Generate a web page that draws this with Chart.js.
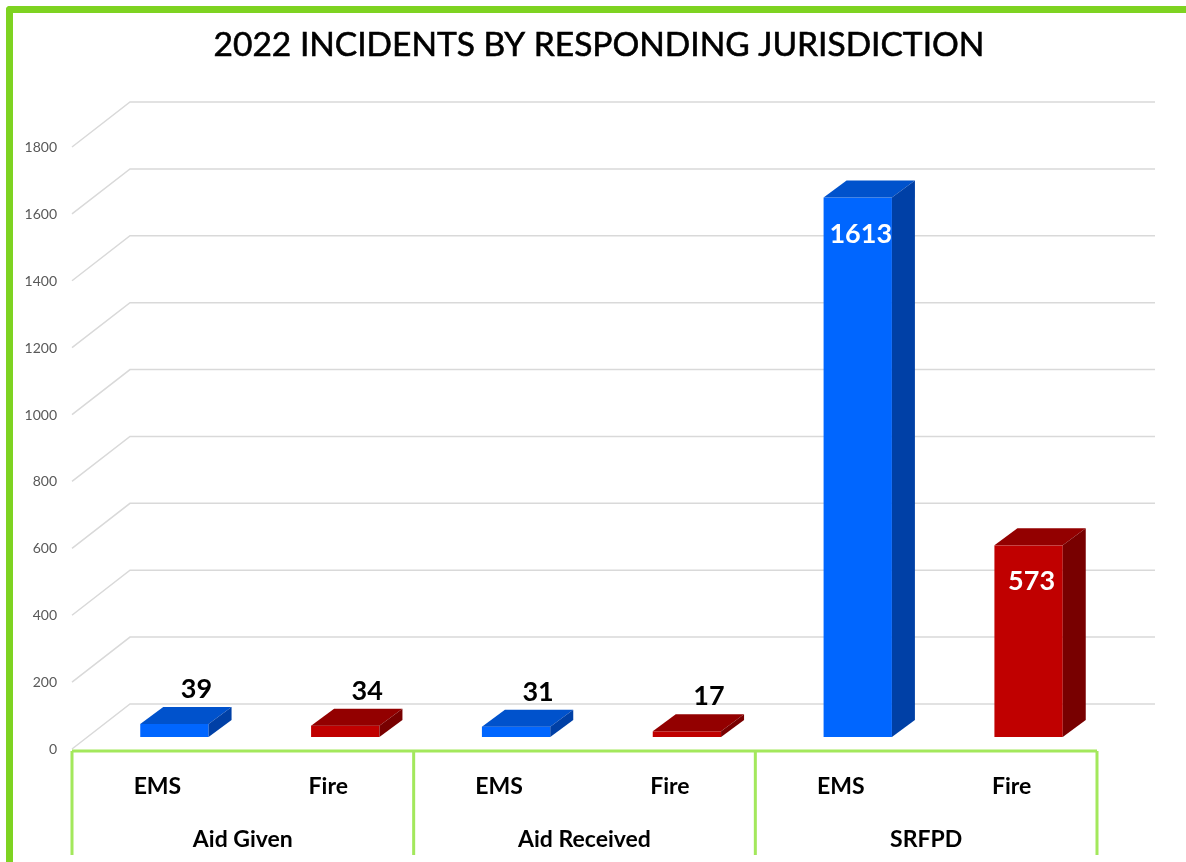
<!DOCTYPE html>
<html>
<head>
<meta charset="utf-8">
<title>2022 Incidents by Responding Jurisdiction</title>
<script src="https://cdn.jsdelivr.net/npm/chart.js@4.4.1/dist/chart.umd.min.js"></script>
<style>
  html, body { margin: 0; padding: 0; background: #fff; overflow: hidden; }
  #wrap { position: relative; width: 1186px; height: 862px; }
  #frame {
    position: absolute; left: 6px; top: 6px; width: 1300px; height: 1000px;
    border-left: 7px solid #7ed321; border-top: 7px solid #7ed321;
    border-top-left-radius: 4px; box-sizing: border-box;
  }
  #incidentChart { position: absolute; left: 0; top: 0; }
</style>
</head>
<body>
<div id="wrap">
  <div id="frame"></div>
  <canvas id="incidentChart" width="1186" height="862"></canvas>
</div>
<script>
// Chart data
const chartTitle = '2022 INCIDENTS BY RESPONDING JURISDICTION';
const categories = ['EMS', 'Fire', 'EMS', 'Fire', 'EMS', 'Fire'];
const groups = ['Aid Given', 'Aid Received', 'SRFPD'];
const incidents = [39, 34, 31, 17, 1613, 573];
const yTicks = [0, 200, 400, 600, 800, 1000, 1200, 1400, 1600, 1800];

// Face colours for the 3D boxes
const palette = {
  EMS: { front: '#0066ff', top: '#0052cc', side: '#0040a6' },
  Fire: { front: '#c00000', top: '#930000', side: '#780000' }
};

// Perspective offsets
const wall = { dx: 58, dy: 45 };     // back wall relative to the front axis
const shift = { dx: 17, dy: 12 };    // front face of each bar
const depth = { dx: 23, dy: 17 };    // bar thickness

const FONT = 'Lato, "Open Sans", sans-serif';

const threeD = {
  id: 'threeD',
  beforeDatasetsDraw(chart) {
    const { ctx, chartArea, scales } = chart;
    const y = scales.y;
    ctx.save();

    // back wall grid lines with the diagonal floor/side edge
    ctx.strokeStyle = '#d9d9d9';
    ctx.lineWidth = 1.5;
    yTicks.forEach(v => {
      const py = y.getPixelForValue(v);
      ctx.beginPath();
      ctx.moveTo(chartArea.left, py);
      ctx.lineTo(chartArea.left + wall.dx, py - wall.dy);
      ctx.lineTo(chartArea.right + wall.dx, py - wall.dy);
      ctx.stroke();
    });

    // tick labels
    ctx.fillStyle = '#595959';
    ctx.font = '14px ' + FONT;
    ctx.textAlign = 'right';
    ctx.textBaseline = 'alphabetic';
    yTicks.forEach(v => {
      ctx.fillText(String(v), chartArea.left - 15, y.getPixelForValue(v) + 5);
    });

    // title
    ctx.fillStyle = '#000';
    ctx.font = '33.5px ' + FONT;
    ctx.textAlign = 'center';
    ctx.lineWidth = 0.6;
    ctx.strokeStyle = '#000';
    ctx.fillText(chartTitle, 599, 56);
    ctx.strokeText(chartTitle, 599, 56);
    ctx.restore();
  },
  afterDatasetsDraw(chart) {
    const { ctx, chartArea, scales } = chart;
    const x = scales.x;
    const meta = chart.getDatasetMeta(0);
    ctx.save();

    meta.data.forEach((bar, i) => {
      const p = bar.getProps(['x', 'y', 'base', 'width'], true);
      const colors = palette[categories[i]];
      const left = p.x - p.width / 2 + shift.dx;
      const right = left + p.width;
      const top = p.y - shift.dy;
      const bottom = p.base - shift.dy;

      // front
      ctx.fillStyle = colors.front;
      ctx.fillRect(left, top, right - left, bottom - top);
      // top
      ctx.fillStyle = colors.top;
      ctx.beginPath();
      ctx.moveTo(left, top);
      ctx.lineTo(left + depth.dx, top - depth.dy);
      ctx.lineTo(right + depth.dx, top - depth.dy);
      ctx.lineTo(right, top);
      ctx.closePath();
      ctx.fill();
      // side
      ctx.fillStyle = colors.side;
      ctx.beginPath();
      ctx.moveTo(right, top);
      ctx.lineTo(right + depth.dx, top - depth.dy);
      ctx.lineTo(right + depth.dx, bottom - depth.dy);
      ctx.lineTo(right, bottom);
      ctx.closePath();
      ctx.fill();

      // value label
      const cx = (left + right) / 2;
      ctx.font = 'bold 27px ' + FONT;
      ctx.textAlign = 'center';
      ctx.textBaseline = 'alphabetic';
      if (bottom - top > 80) {
        ctx.fillStyle = '#fff';
        ctx.fillText(String(incidents[i]), cx + 3, top + 45);
      } else {
        ctx.fillStyle = '#000';
        ctx.fillText(String(incidents[i]), cx + 22, top - depth.dy - 9);
      }
    });

    // category axis boxes
    const step = x.getPixelForValue(1) - x.getPixelForValue(0);
    const axisY = chartArea.bottom + 2;
    const boxBottom = 855;
    ctx.strokeStyle = '#a3e85c';
    ctx.lineWidth = 3;
    ctx.beginPath();
    ctx.moveTo(chartArea.left, axisY);
    ctx.lineTo(chartArea.right, axisY);
    for (let g = 0; g <= groups.length; g++) {
      const gx = x.getPixelForValue(g * 2) - step / 2;
      ctx.moveTo(gx, axisY);
      ctx.lineTo(gx, boxBottom);
    }
    ctx.stroke();

    ctx.fillStyle = '#000';
    ctx.font = 'bold 23px ' + FONT;
    ctx.textAlign = 'center';
    categories.forEach((c, i) => {
      ctx.fillText(c, x.getPixelForValue(i), 794);
    });
    groups.forEach((g, i) => {
      const gx = (x.getPixelForValue(i * 2) + x.getPixelForValue(i * 2 + 1)) / 2;
      ctx.fillText(g, gx, 847);
    });
    ctx.restore();
  }
};

const ctx = document.getElementById('incidentChart').getContext('2d');
new Chart(ctx, {
  type: 'bar',
  data: {
    labels: categories.map((c, i) => groups[Math.floor(i / 2)] + ' ' + c),
    datasets: [{
      label: 'Incidents',
      data: incidents,
      backgroundColor: 'rgba(0,0,0,0)',
      borderWidth: 0,
      barPercentage: 0.4,
      categoryPercentage: 1
    }]
  },
  options: {
    responsive: false,
    animation: false,
    devicePixelRatio: 1,
    layout: { padding: { left: 72, right: 89, top: 147, bottom: 113 } },
    scales: {
      x: { display: false },
      y: { display: false, min: 0, max: 1800 }
    },
    plugins: {
      legend: { display: false },
      tooltip: { enabled: false }
    }
  },
  plugins: [threeD]
});
</script>
</body>
</html>
